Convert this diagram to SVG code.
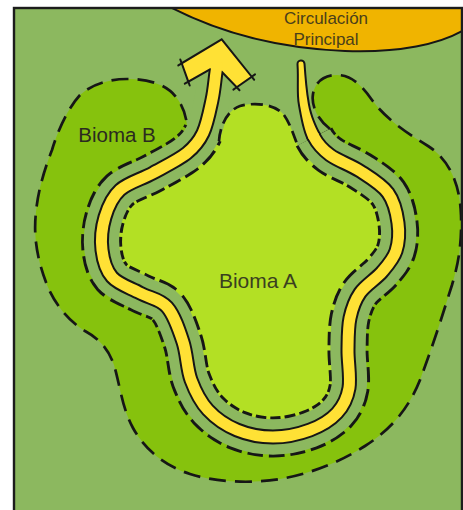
<svg xmlns="http://www.w3.org/2000/svg" width="463" height="510" viewBox="0 0 463 510">
<style>
.dash{fill:none;stroke:#161616;stroke-width:2.7;stroke-dasharray:17 9;stroke-linecap:butt}
.dash2{fill:none;stroke:#161616;stroke-width:2.7;stroke-dasharray:12 6;stroke-linecap:butt}
.lbl{font-family:"Liberation Sans",Arial,sans-serif;text-anchor:middle}
.ink{fill:none;stroke:#161616;stroke-width:2;stroke-linecap:round}
</style>
<defs>
<clipPath id="frameClip"><rect x="14" y="8" width="448" height="510"/></clipPath>
<path id="riverMain" d="M 313,135 L 314,137 C 318.3,145.3 322.3,149.3 330,155 C 337.7,160.7 350.3,164.7 360,171 C 369.7,177.3 381.7,184.3 388,193 C 394.3,201.7 396.7,213.3 398,223 C 399.3,232.7 398.7,242.8 396,251 C 393.3,259.2 388,265 382,272 C 376,279 365.3,285.3 360,293 C 354.7,300.7 352,308.5 350,318 C 348,327.5 348.2,338.3 348,350 C 347.8,361.7 350.8,377.5 349,388 C 347.2,398.5 343.5,406 337,413 C 330.5,420 320.7,426 310,430 C 299.3,434 285.2,437 273,437 C 260.8,437 247.8,434.5 237,430 C 226.2,425.5 215.7,418.3 208,410 C 200.3,401.7 195.2,391.3 191,380 C 186.8,368.7 187,354.2 183,342 C 179,329.8 174.2,315.2 167,307 C 159.8,298.8 149.2,298 140,293 C 130.8,288 118.3,284.2 112,277 C 105.7,269.8 103.2,260 102,250 C 100.8,240 102,227 105,217 C 108,207 112,197.3 120,190 C 128,182.7 141.8,179.2 153,173 C 164.2,166.8 178.7,159.7 187,153 C 195.3,146.3 198.8,141.8 203,133 C 207.2,124.2 209.8,110.2 212,100 C 214.2,89.8 214.7,81.3 216,72 L 217.5,62"/>
<path id="corridorEdge" d="M 314,137 C 318.3,145.3 322.3,149.3 330,155 C 337.7,160.7 350.3,164.7 360,171 C 369.7,177.3 381.7,184.3 388,193 C 394.3,201.7 396.7,213.3 398,223 C 399.3,232.7 398.7,242.8 396,251 C 393.3,259.2 388,265 382,272 C 376,279 365.3,285.3 360,293 C 354.7,300.7 352,308.5 350,318 C 348,327.5 348.2,338.3 348,350 C 347.8,361.7 350.8,377.5 349,388 C 347.2,398.5 343.5,406 337,413 C 330.5,420 320.7,426 310,430 C 299.3,434 285.2,437 273,437 C 260.8,437 247.8,434.5 237,430 C 226.2,425.5 215.7,418.3 208,410 C 200.3,401.7 195.2,391.3 191,380 C 186.8,368.7 187,354.2 183,342 C 179,329.8 174.2,315.2 167,307 C 159.8,298.8 149.2,298 140,293 C 130.8,288 118.3,284.2 112,277 C 105.7,269.8 103.2,260 102,250 C 100.8,240 102,227 105,217 C 108,207 112,197.3 120,190 C 128,182.7 141.8,179.2 153,173 C 164.2,166.8 178.7,159.7 187,153 C 195.3,146.3 198.8,141.8 203,133"/>
<path id="corridorFill" d="M 314,137 C 318.3,145.3 322.3,149.3 330,155 C 337.7,160.7 350.3,164.7 360,171 C 369.7,177.3 381.7,184.3 388,193 C 394.3,201.7 396.7,213.3 398,223 C 399.3,232.7 398.7,242.8 396,251 C 393.3,259.2 388,265 382,272 C 376,279 365.3,285.3 360,293 C 354.7,300.7 352,308.5 350,318 C 348,327.5 348.2,338.3 348,350 C 347.8,361.7 350.8,377.5 349,388 C 347.2,398.5 343.5,406 337,413 C 330.5,420 320.7,426 310,430 C 299.3,434 285.2,437 273,437 C 260.8,437 247.8,434.5 237,430 C 226.2,425.5 215.7,418.3 208,410 C 200.3,401.7 195.2,391.3 191,380 C 186.8,368.7 187,354.2 183,342 C 179,329.8 174.2,315.2 167,307 C 159.8,298.8 149.2,298 140,293 C 130.8,288 118.3,284.2 112,277 C 105.7,269.8 103.2,260 102,250 C 100.8,240 102,227 105,217 C 108,207 112,197.3 120,190 C 128,182.7 141.8,179.2 153,173 C 164.2,166.8 178.7,159.7 187,153 C 195.3,146.3 198.8,141.8 203,133 C 207.2,124.2 209.8,110.2 212,100 C 214.2,89.8 214.7,81.3 216,72"/>
</defs>
<rect width="463" height="510" fill="#ffffff"/>
<g clip-path="url(#frameClip)">
  <rect id="fondo" x="14" y="8" width="448" height="510" fill="#8cb85f"/>
  <g id="bioma-b">
    <path fill="#86c20d" d="M 330,129 C 318,120 311,106 313,94 C 315,82 324,75 337,75 C 352,75 362,86 372,100 C 385,118 405,132 428,146 C 450,160 460,185 461,215 C 462,245 458,265 452,285 C 444,310 435,340 420,380 C 408,410 390,430 365,446 C 340,462 310,474 280,479 C 250,484 215,482 190,474 C 165,466 145,450 133,428 C 122,408 120,385 114,365 C 108,348 98,338 85,331 C 70,322 55,305 47,285 C 38,262 33,238 36,212 C 38,190 45,168 52,150 C 58,130 68,108 80,95 C 92,84 110,79 127,79 C 148,79 166,84 176,97 C 184,107 186,117 187,125 L 203,133 L 260,260 L 314,137 Z"/>
  </g>
  <g id="bioma-a">
    <path fill="#b3e024" d="M 314,137 C 318.3,145.3 322.3,149.3 330,155 C 337.7,160.7 350.3,164.7 360,171 C 369.7,177.3 381.7,184.3 388,193 C 394.3,201.7 396.7,213.3 398,223 C 399.3,232.7 398.7,242.8 396,251 C 393.3,259.2 388,265 382,272 C 376,279 365.3,285.3 360,293 C 354.7,300.7 352,308.5 350,318 C 348,327.5 348.2,338.3 348,350 C 347.8,361.7 350.8,377.5 349,388 C 347.2,398.5 343.5,406 337,413 C 330.5,420 320.7,426 310,430 C 299.3,434 285.2,437 273,437 C 260.8,437 247.8,434.5 237,430 C 226.2,425.5 215.7,418.3 208,410 C 200.3,401.7 195.2,391.3 191,380 C 186.8,368.7 187,354.2 183,342 C 179,329.8 174.2,315.2 167,307 C 159.8,298.8 149.2,298 140,293 C 130.8,288 118.3,284.2 112,277 C 105.7,269.8 103.2,260 102,250 C 100.8,240 102,227 105,217 C 108,207 112,197.3 120,190 C 128,182.7 141.8,179.2 153,173 C 164.2,166.8 178.7,159.7 187,153 C 195.3,146.3 198.8,141.8 203,133 L 219,141 C 220,125 228,110 240,106 C 255,102 275,104 284,115 C 291,125 294,137 298,146 Z"/>
  </g>
  <g id="corredor">
    <use href="#corridorEdge" fill="none" stroke="#161616" stroke-width="41" stroke-dasharray="13 5"/>
    <use href="#corridorFill" fill="none" stroke="#8cb85f" stroke-width="35.3"/>
  </g>
  <g id="bordes">
    <path class="dash" d="M 330,129 C 318,120 311,106 313,94 C 315,82 324,75 337,75 C 352,75 362,86 372,100 C 385,118 405,132 428,146 C 450,160 460,185 461,215 C 462,245 458,265 452,285 C 444,310 435,340 420,380 C 408,410 390,430 365,446 C 340,462 310,474 280,479 C 250,484 215,482 190,474 C 165,466 145,450 133,428 C 122,408 120,385 114,365 C 108,348 98,338 85,331 C 70,322 55,305 47,285 C 38,262 33,238 36,212 C 38,190 45,168 52,150 C 58,130 68,108 80,95 C 92,84 110,79 127,79 C 148,79 166,84 176,97 C 184,107 186,117 187,125"/>
    <path class="dash2" d="M 219,141 C 220,125 228,110 240,106 C 255,102 275,104 284,115 C 291,125 294,137 298,146"/>
  </g>
  <g id="rio">
    <path fill="#161616" d="M 305.5,63.7 C 306.5,77.7 307.7,91.7 309.9,103.9 C 312.1,116.1 316.4,125.3 320.7,133.6 L 307.3,140.5 C 303.0,132.2 300.3,118.3 298.1,106.1 C 295.9,93.9 297.5,78.3 296.5,64.3 A 4.5 4.5 0 0 1 305.5,63.7 Z"/>
    <use href="#riverMain" fill="none" stroke="#161616" stroke-width="15"/>
    <path fill="#ffe135" stroke="#161616" stroke-width="2" stroke-linejoin="miter" d="M 210,69.3 L 188.3,81.7 L 181.7,63.3 L 221.7,39.3 L 251.7,76.7 L 236.7,87.3 L 221.7,71.7 Z"/>
    <path fill="#ffe135" d="M 303.5,63.8 C 304.5,77.8 305.7,92.1 307.9,104.3 C 310.1,116.5 314.6,126.2 318.9,134.5 L 309.1,139.5 C 304.8,131.2 302.3,117.9 300.1,105.7 C 297.9,93.5 299.5,78.2 298.5,64.2 A 2.5 2.5 0 0 1 303.5,63.8 Z"/>
    <use href="#riverMain" fill="none" stroke="#ffe135" stroke-width="11"/>
    <path class="ink" d="M 181.7,63.3 L 178.3,65.4 M 181.7,63.3 L 180.3,59.5 M 188.3,81.7 L 189.7,85.5 M 188.3,81.7 L 184.8,83.7 M 251.7,76.7 L 254.2,79.8 M 251.7,76.7 L 255,74.4 M 236.7,87.3 L 233.4,89.6 M 236.7,87.3 L 239.5,90.2"/>
  </g>
  <g id="circulacion-principal">
    <path fill="#f0b400" stroke="#161616" stroke-width="2" d="M 168,6 C 210,28 270,48 345,51 C 400,53 440,44 464,30 L 464,4 L 168,4 Z"/>
    <text class="lbl" x="326" y="24" font-size="17" fill="#4a3f1a">Circulación</text>
    <text class="lbl" x="326" y="45" font-size="17" fill="#4a3f1a">Principal</text>
  </g>
  <text class="lbl" x="117" y="142" font-size="20.5" fill="#2b2b20">Bioma B</text>
  <text class="lbl" x="258" y="288" font-size="21" fill="#3a3f20">Bioma A</text>
</g>
<rect id="marco" x="14" y="8" width="448" height="510" fill="none" stroke="#1c1c1c" stroke-width="2.4"/>
</svg>
